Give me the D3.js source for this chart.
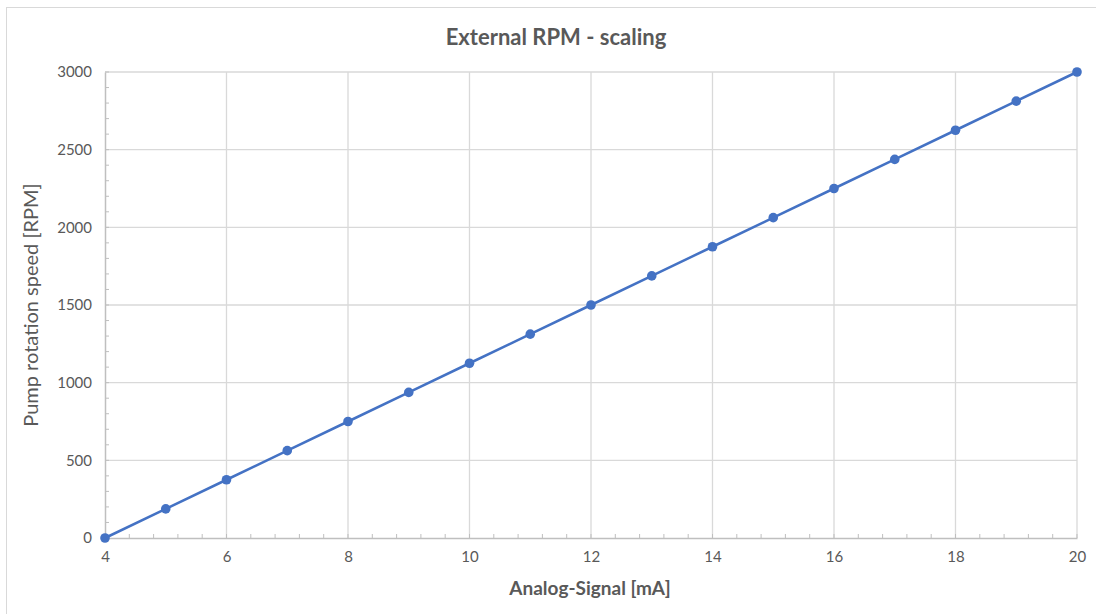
<!DOCTYPE html>
<html>
<head>
<meta charset="utf-8">
<script src="https://cdn.jsdelivr.net/npm/d3@7"></script>
<style>
  body { margin: 0; background: #fff; }
  text { font-family: Lato, "Open Sans", sans-serif; fill: #595959; }
</style>
</head>
<body>
<div id="chart"></div>
<script>
// signal in mA and the matching pump speed in RPM
var signal_ma = [4, 5, 6, 7, 8, 9, 10, 11, 12, 13, 14, 15, 16, 17, 18, 19, 20];
var speed_rpm = [0, 187.5, 375, 562.5, 750, 937.5, 1125, 1312.5, 1500,
                 1687.5, 1875, 2062.5, 2250, 2437.5, 2625, 2812.5, 3000];
var x_ticks = [4, 6, 8, 10, 12, 14, 16, 18, 20];
var y_ticks = [0, 500, 1000, 1500, 2000, 2500, 3000];

var width = 1096, height = 614;
var plot_left = 105, plot_right = 1077, plot_top = 72, plot_bottom = 538;

var svg = d3.select("#chart").append("svg")
    .attr("width", width)
    .attr("height", height);

// outer chart frame
svg.append("rect")
    .attr("x", 6.5).attr("y", 7.5)
    .attr("width", width).attr("height", height)
    .attr("fill", "none")
    .attr("stroke", "#d9d9d9");

var x = d3.scaleLinear().domain([4, 20]).range([plot_left, plot_right]);
var y = d3.scaleLinear().domain([0, 3000]).range([plot_bottom, plot_top]);

// gridlines
svg.append("g")
    .selectAll("line")
    .data(x_ticks.slice(1))
    .enter().append("line")
    .attr("x1", function(d) { return x(d); })
    .attr("x2", function(d) { return x(d); })
    .attr("y1", plot_top).attr("y2", plot_bottom)
    .attr("stroke", "#d9d9d9").attr("stroke-width", 1.3);
svg.append("g")
    .selectAll("line")
    .data(y_ticks.slice(1))
    .enter().append("line")
    .attr("x1", plot_left).attr("x2", plot_right)
    .attr("y1", function(d) { return y(d); })
    .attr("y2", function(d) { return y(d); })
    .attr("stroke", "#d9d9d9").attr("stroke-width", 1.3);

// minor ticks, pointing into the plot
var x_minor = d3.range(0, 41).map(function(i) { return 4 + i * 0.4; });
var y_minor = d3.range(0, 31).map(function(i) { return i * 100; });
svg.append("g")
    .selectAll("line")
    .data(x_minor)
    .enter().append("line")
    .attr("x1", function(d) { return x(d); })
    .attr("x2", function(d) { return x(d); })
    .attr("y1", plot_bottom - 4).attr("y2", plot_bottom)
    .attr("stroke", "#bfbfbf");
svg.append("g")
    .selectAll("line")
    .data(y_minor)
    .enter().append("line")
    .attr("x1", plot_left).attr("x2", plot_left + 4)
    .attr("y1", function(d) { return y(d); })
    .attr("y2", function(d) { return y(d); })
    .attr("stroke", "#bfbfbf");

// axes
var xAxis = svg.append("g")
    .attr("transform", "translate(0," + plot_bottom + ")")
    .call(d3.axisBottom(x).tickValues(x_ticks).tickFormat(d3.format("d"))
        .tickSize(0).tickPadding(13));
var yAxis = svg.append("g")
    .attr("transform", "translate(" + plot_left + ",0)")
    .call(d3.axisLeft(y).tickValues(y_ticks).tickFormat(d3.format("d"))
        .tickSize(0).tickPadding(13));
[xAxis, yAxis].forEach(function(a) {
    a.select(".domain").attr("stroke", "#bfbfbf").attr("stroke-width", 1.5);
    a.selectAll("text").style("font-size", "15px");
});

// series
var pts = signal_ma.map(function(d, i) { return [d, speed_rpm[i]]; });
var line = d3.line()
    .x(function(d) { return x(d[0]); })
    .y(function(d) { return y(d[1]); });
svg.append("path")
    .datum(pts)
    .attr("d", line)
    .attr("fill", "none")
    .attr("stroke", "#4472c4")
    .attr("stroke-width", 2.5);
svg.append("g")
    .selectAll("circle")
    .data(pts)
    .enter().append("circle")
    .attr("cx", function(d) { return x(d[0]); })
    .attr("cy", function(d) { return y(d[1]); })
    .attr("r", 4.8)
    .attr("fill", "#4472c4");

// titles
svg.append("text")
    .attr("x", 556).attr("y", 45)
    .attr("text-anchor", "middle")
    .style("font-size", "22px")
    .style("font-weight", "bold")
    .text("External RPM - scaling");
svg.append("text")
    .attr("x", 590).attr("y", 595)
    .attr("text-anchor", "middle")
    .style("font-size", "19px")
    .style("font-weight", "bold")
    .text("Analog-Signal [mA]");
svg.append("text")
    .attr("transform", "translate(38," + (plot_top + plot_bottom) / 2 + ") rotate(-90)")
    .attr("text-anchor", "middle")
    .style("font-size", "20px")
    .text("Pump rotation speed [RPM]");
</script>
</body>
</html>
